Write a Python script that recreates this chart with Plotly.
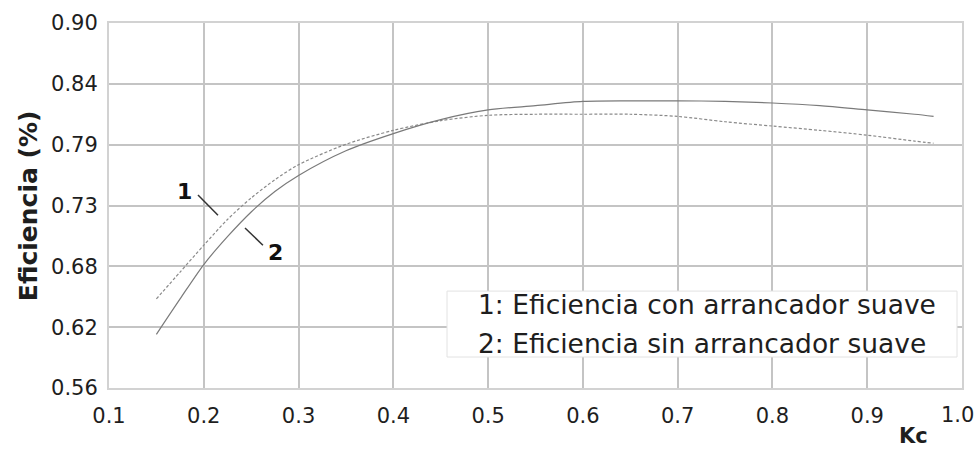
import plotly.graph_objects as go

# Data
kc = [0.15, 0.175, 0.2, 0.225, 0.25, 0.275, 0.3, 0.35, 0.4, 0.45, 0.5, 0.55, 0.6, 0.65, 0.7, 0.75, 0.8, 0.85, 0.9, 0.95, 0.97]
ef_con = [0.643, 0.668, 0.693, 0.717, 0.737, 0.754, 0.768, 0.787, 0.800, 0.809, 0.814, 0.815, 0.815, 0.815, 0.813, 0.808, 0.804, 0.800, 0.7955, 0.790, 0.788]
ef_sin = [0.610, 0.643, 0.675, 0.701, 0.724, 0.743, 0.758, 0.781, 0.797, 0.810, 0.819, 0.823, 0.827, 0.8275, 0.8275, 0.827, 0.8255, 0.823, 0.819, 0.815, 0.813]

y_tickvals = [0.56, 0.56 + 0.34 / 6, 0.56 + 0.68 / 6, 0.73, 0.56 + 1.36 / 6, 0.56 + 1.7 / 6, 0.90]
y_ticktext = ["0.56", "0.62", "0.68", "0.73", "0.79", "0.84", "0.90"]
x_tickvals = [0.1, 0.2, 0.3, 0.4, 0.5, 0.6, 0.7, 0.8, 0.9, 1.0]
x_ticktext = ["0.1", "0.2", "0.3", "0.4", "0.5", "0.6", "0.7", "0.8", "0.9", "1.0"]

legend_lines = ["1: Eficiencia con arrancador suave", "2: Eficiencia sin arrancador suave"]

FONT = "DejaVu Sans"
TXT = "#1e1e1e"

fig = go.Figure()
fig.add_trace(go.Scatter(x=kc, y=ef_con, mode="lines", name=legend_lines[0],
                         line=dict(color="#8a8a8a", width=1.2, dash="3px,2px", shape="spline", smoothing=0.8)))
fig.add_trace(go.Scatter(x=kc, y=ef_sin, mode="lines", name=legend_lines[1],
                         line=dict(color="#7a7a7a", width=1.2, shape="spline", smoothing=0.8)))

fig.update_layout(
    width=977, height=449,
    margin=dict(l=109, r=15, t=23, b=61),
    paper_bgcolor="white", plot_bgcolor="white",
    showlegend=False,
    font=dict(family=FONT, color=TXT),
)
# last x tick label is drawn as an annotation (shifted left like the reference)
x_axis_text = x_ticktext[:-1] + [""]
fig.update_xaxes(range=[0.1, 1.0], tickvals=x_tickvals, ticktext=x_axis_text,
                 showgrid=True, gridcolor="#c4c4c4", gridwidth=1.5,
                 showline=True, linecolor="#d2d2d2", linewidth=2, mirror=True,
                 ticks="", ticklabelstandoff=8, zeroline=False,
                 tickfont=dict(size=21, family=FONT, color=TXT))
fig.update_yaxes(range=[0.56, 0.90], tickvals=y_tickvals, ticktext=y_ticktext,
                 showgrid=True, gridcolor="#c4c4c4", gridwidth=1.5,
                 showline=True, linecolor="#d2d2d2", linewidth=2, mirror=True,
                 ticks="", ticklabelstandoff=5, zeroline=False,
                 tickfont=dict(size=21, family=FONT, color=TXT))
fig.add_annotation(text=x_ticktext[-1], xref="paper", yref="paper",
                   x=(957 - 109) / 853, y=-(415 - 388) / 365.3, showarrow=False,
                   xanchor="center", yanchor="middle", font=dict(size=21, family=FONT, color=TXT))

# Axis titles
fig.add_annotation(text="<b>Eficiencia (%)</b>", xref="paper", yref="paper",
                   x=-81 / 853, y=(388 - 206) / 365.3, textangle=-90, showarrow=False,
                   xanchor="center", yanchor="middle", font=dict(size=25, family=FONT, color=TXT))
fig.add_annotation(text="<b>Kc</b>", xref="paper", yref="paper",
                   x=(913 - 109) / 853, y=-(436 - 388) / 365.3, showarrow=False,
                   xanchor="center", yanchor="middle", font=dict(size=21, family=FONT, color=TXT))

# Curve labels with leader lines
fig.add_annotation(text="<b>1</b>", x=0.180, y=0.7434, showarrow=False,
                   xanchor="center", yanchor="middle", font=dict(size=22, family=FONT, color="#111"))
fig.add_annotation(text="<b>2</b>", x=0.276, y=0.6866, showarrow=False,
                   xanchor="center", yanchor="middle", font=dict(size=22, family=FONT, color="#111"))
fig.add_shape(type="line", x0=0.1939, y0=0.7397, x1=0.215, y1=0.721,
              line=dict(color="#333", width=1.5))
fig.add_shape(type="line", x0=0.2435, y0=0.709, x1=0.2624, y1=0.693,
              line=dict(color="#333", width=1.5))

# Text legend box
fig.add_shape(type="rect", xref="paper", yref="paper",
              x0=(447 - 109) / 853, x1=(957 - 109) / 853,
              y0=(388 - 357) / 365.3, y1=(388 - 291) / 365.3,
              fillcolor="white", line=dict(color="#e2e2e2", width=1))
for i, t in enumerate(legend_lines):
    py = [304, 343][i]
    fig.add_annotation(text=t, xref="paper", yref="paper",
                       x=(476 - 109) / 853, y=(388 - py) / 365.3, showarrow=False,
                       xanchor="left", yanchor="middle", font=dict(size=26.5, family=FONT, color=TXT))

fig.write_html("out.html", config={"displayModeBar": False},
               post_script="document.body.style.margin='0';document.body.style.overflow='hidden';")
